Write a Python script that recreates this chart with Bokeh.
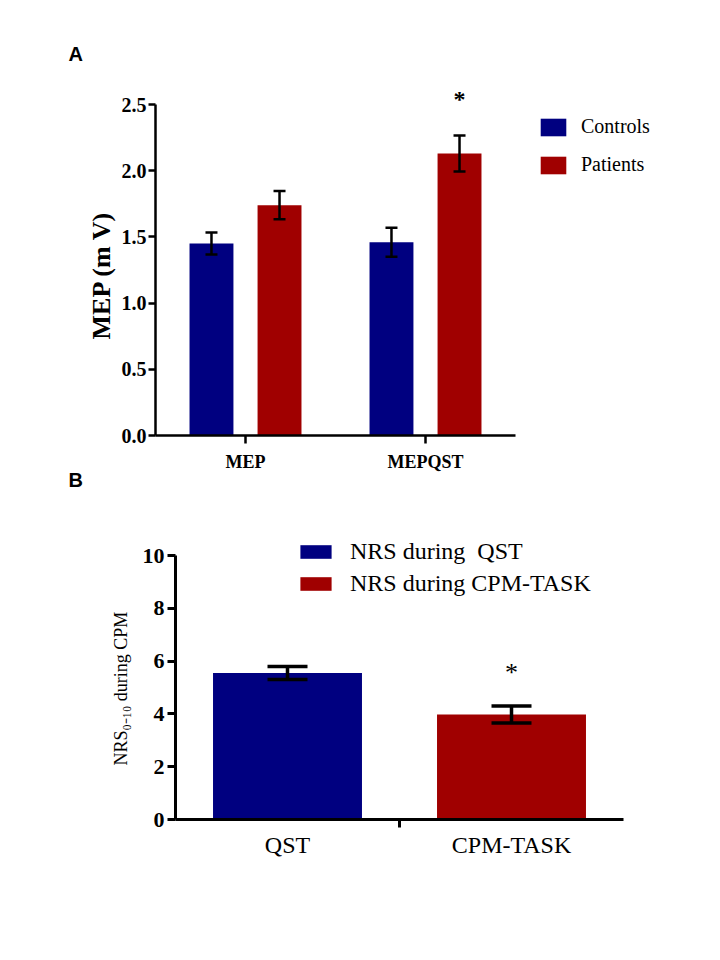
import numpy as np
from bokeh.plotting import figure
from bokeh.models import (ColumnDataSource, Whisker, TeeHead, Legend, LegendItem,
                          LabelSet, Title, FixedTicker, Range1d, NumeralTickFormatter)
from bokeh.transform import dodge
from bokeh.layouts import column, row
from bokeh.embed import file_html
from bokeh.resources import INLINE

# ---------------- Panel A data ----------------
a_categories = ["MEP", "MEPQST"]
a_controls = [1.45, 1.46]
a_controls_sem = [0.083, 0.11]
a_patients = [1.74, 2.13]
a_patients_sem = [0.106, 0.136]
a_significant = [False, True]
a_yticks = [0.0, 0.5, 1.0, 1.5, 2.0, 2.5]
a_series = ["Controls", "Patients"]

# ---------------- Panel B data ----------------
b_categories = ["QST", "CPM-TASK"]
b_means = [5.55, 3.98]
b_sem = [0.25, 0.32]
b_legend = ["NRS during\u00a0 QST", "NRS during CPM-TASK"]
b_significant = [False, True]
b_yticks = [0, 2, 4, 6, 8, 10]

BLUE = "#000080"
RED = "#a00000"
SERIF = "Liberation Serif"

# ================= Panel A =================
nA = len(a_categories)
a_x = [i + 0.5 for i in range(nA)]
pA = figure(x_range=Range1d(0, 3.0), y_range=Range1d(0, 2.621),
            frame_width=540, frame_height=347,
            min_border_left=155, min_border_right=9,
            min_border_top=88, min_border_bottom=63,
            output_backend="svg", toolbar_location=None)
pA.outline_line_color = None
pA.xgrid.visible = False
pA.ygrid.visible = False

srcA = ColumnDataSource(dict(
    x=a_x,
    controls=a_controls,
    c_up=list(np.array(a_controls) + np.array(a_controls_sem)),
    c_lo=list(np.array(a_controls) - np.array(a_controls_sem)),
    patients=a_patients,
    p_up=list(np.array(a_patients) + np.array(a_patients_sem)),
    p_lo=list(np.array(a_patients) - np.array(a_patients_sem)),
))

OFF = 0.189
BW = 0.244
rc = pA.vbar(x=dodge("x", -OFF), top="controls", width=BW,
             fill_color=BLUE, line_color=None, source=srcA)
rp = pA.vbar(x=dodge("x", OFF), top="patients", width=BW,
             fill_color=RED, line_color=None, source=srcA)

for off, up, lo in [(-OFF, "c_up", "c_lo"), (OFF, "p_up", "p_lo")]:
    pA.add_layout(Whisker(source=srcA, base=dodge("x", off), upper=up, lower=lo,
                          line_width=2.5, line_color="black", level="overlay",
                          upper_head=TeeHead(size=12, line_width=2.5, line_color="black"),
                          lower_head=TeeHead(size=12, line_width=2.5, line_color="black")))

starA = ColumnDataSource(dict(
    x=[x for x, s in zip(a_x, a_significant) if s],
    y=[v + e for v, e, s in zip(a_patients, a_patients_sem, a_significant) if s],
    t=["*" for s in a_significant if s],
))
pA.add_layout(LabelSet(x=dodge("x", OFF), y="y", text="t", source=starA,
                       text_align="center", text_baseline="alphabetic", y_offset=28,
                       text_font=SERIF, text_font_style="bold", text_font_size="24px",
                       text_color="black"))

legA = Legend(items=[LegendItem(label=a_series[0], renderers=[rc]),
                     LegendItem(label=a_series[1], renderers=[rp])],
              location=(382, 259), glyph_width=32, glyph_height=22, label_height=22,
              label_standoff=12, spacing=15, padding=0, margin=0,
              border_line_color=None, background_fill_alpha=0,
              label_text_font=SERIF, label_text_font_size="20px",
              label_text_color="black")
pA.add_layout(legA)

pA.yaxis.ticker = FixedTicker(ticks=a_yticks)
pA.yaxis.formatter = NumeralTickFormatter(format="0.0")
pA.yaxis.bounds = (a_yticks[0], a_yticks[-1])
pA.xaxis.ticker = FixedTicker(ticks=a_x)
pA.xaxis.major_label_overrides = {x: c for x, c in zip(a_x, a_categories)}
pA.xaxis.bounds = (0, nA)
for ax in (pA.xaxis, pA.yaxis):
    ax.axis_line_width = 2.5
    ax.axis_line_color = "black"
    ax.major_tick_line_width = 2.5
    ax.major_tick_line_color = "black"
    ax.major_tick_in = 0
    ax.minor_tick_line_color = None
    ax.major_label_text_font = SERIF
    ax.major_label_text_font_style = "bold"
    ax.major_label_text_color = "black"
pA.yaxis.major_tick_out = 7
pA.yaxis.major_label_text_font_size = "20px"
pA.yaxis.major_label_standoff = 2
pA.xaxis.major_tick_out = 8
pA.xaxis.major_label_text_font_size = "18px"
pA.xaxis.major_label_standoff = 8

pA.add_layout(Title(text="MEP (m V)", align="left", offset=96, standoff=6,
                    text_font=SERIF, text_font_style="bold", text_font_size="26px",
                    text_color="black"), "left")
pA.title.text = "A"
pA.title.align = "left"
pA.title.offset = -87
pA.title.standoff = 48
pA.title.text_font = "Liberation Sans"
pA.title.text_font_style = "bold"
pA.title.text_font_size = "20px"
pA.title.text_color = "black"

# panel letter for B sits just above panel B
pA.add_layout(Title(text="B", align="left", offset=-87, standoff=-16,
                    text_font="Liberation Sans", text_font_style="bold",
                    text_font_size="20px", text_color="black"), "below")

# ================= Panel B =================
nB = len(b_categories)
b_x = [i + 0.5 for i in range(nB)]
pB = figure(x_range=Range1d(0, nB), y_range=Range1d(0, 10.72),
            frame_width=448, frame_height=283,
            min_border_left=175, min_border_right=81,
            min_border_top=38, min_border_bottom=60,
            output_backend="svg", toolbar_location=None)
pB.outline_line_color = None
pB.xgrid.visible = False
pB.ygrid.visible = False

srcB = ColumnDataSource(dict(
    x=b_x, mean=b_means,
    up=list(np.array(b_means) + np.array(b_sem)),
    lo=list(np.array(b_means) - np.array(b_sem)),
    color=[BLUE, RED],
))
rb = pB.vbar(x="x", top="mean", width=0.665, fill_color="color", line_color=None, source=srcB)
pB.add_layout(Whisker(source=srcB, base="x", upper="up", lower="lo",
                      line_width=3.5, line_color="black", level="overlay",
                      upper_head=TeeHead(size=40, line_width=3.5, line_color="black"),
                      lower_head=TeeHead(size=40, line_width=3.5, line_color="black")))

starB = ColumnDataSource(dict(
    x=[x for x, s in zip(b_x, b_significant) if s],
    y=[u for u, s in zip(srcB.data["up"], b_significant) if s],
    t=["*" for s in b_significant if s],
))
pB.add_layout(LabelSet(x="x", y="y", text="t", source=starB, text_align="center",
                       text_baseline="alphabetic", y_offset=25, text_font=SERIF,
                       text_font_size="26px", text_color="black"))

legB = Legend(items=[LegendItem(label=b_legend[i], renderers=[rb], index=i) for i in range(nB)],
              location=(121, 222), glyph_width=39, glyph_height=17, label_height=17,
              label_standoff=15, spacing=5, padding=0, margin=0,
              border_line_color=None, background_fill_alpha=0,
              label_text_font=SERIF, label_text_font_size="24px",
              label_text_color="black")
pB.add_layout(legB)

pB.yaxis.ticker = FixedTicker(ticks=b_yticks)
pB.yaxis.bounds = (b_yticks[0], b_yticks[-1])
pB.yaxis.major_label_text_font_style = "bold"
pB.yaxis.major_label_text_font_size = "22px"
pB.yaxis.major_tick_out = 8
pB.yaxis.major_label_standoff = 3

pB.xaxis.ticker = FixedTicker(ticks=b_x, minor_ticks=[i + 1.0 for i in range(nB - 1)])
pB.xaxis.major_label_overrides = {x: c for x, c in zip(b_x, b_categories)}
pB.xaxis.major_tick_line_color = None
pB.xaxis.major_tick_out = 0
pB.xaxis.major_tick_in = 0
pB.xaxis.minor_tick_line_color = "black"
pB.xaxis.minor_tick_line_width = 3
pB.xaxis.minor_tick_out = 8
pB.xaxis.minor_tick_in = 0
pB.xaxis.major_label_text_font_size = "24px"
pB.xaxis.major_label_standoff = 4
for ax in (pB.xaxis, pB.yaxis):
    ax.axis_line_width = 3
    ax.axis_line_color = "black"
    ax.major_label_text_font = SERIF
    ax.major_label_text_color = "black"
pB.yaxis.major_tick_line_width = 3
pB.yaxis.major_tick_line_color = "black"
pB.yaxis.major_tick_in = 0
pB.yaxis.minor_tick_line_color = None

pB.add_layout(Title(text="NRS\u2080\u208b\u2081\u2080 during CPM", align="left", offset=54,
                    standoff=18, text_font=SERIF, text_font_style="normal",
                    text_font_size="18px", text_color="black"), "left")

layout = column(row(pA), row(pB))
open("out.html", "w").write(file_html(layout, INLINE))
